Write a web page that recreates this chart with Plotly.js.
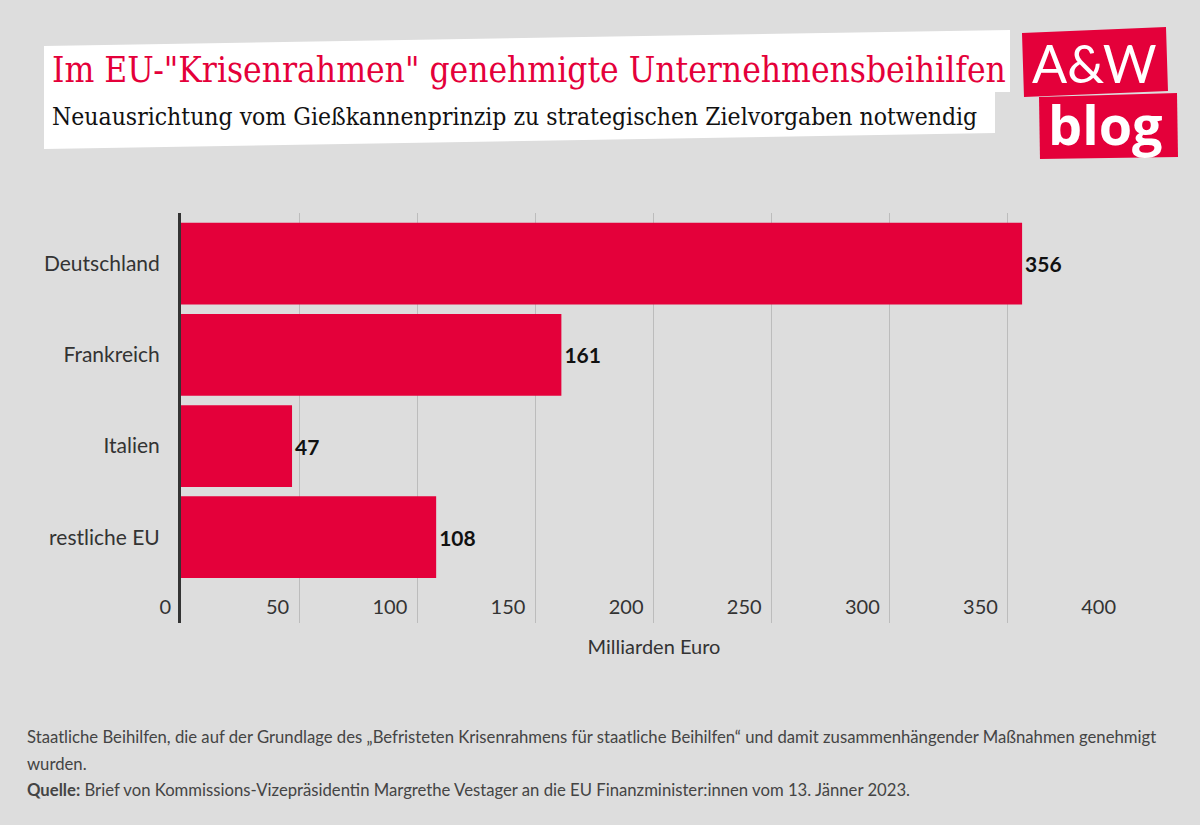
<!DOCTYPE html>
<html>
<head>
<meta charset="utf-8">
<script src="https://cdn.plot.ly/plotly-3.0.1.min.js"></script>
<style>html,body{margin:0;padding:0;background:#dddddd;}</style>
</head>
<body>
<div id="chart" style="width:1200px;height:825px;"></div>
<script>
const categories = ["Deutschland", "Frankreich", "Italien", "restliche EU"];
const values = [356, 161, 47, 108];
const xTickValues = [0, 50, 100, 150, 200, 250, 300, 350, 400];
const xTickLabels = ["0", "50", "100", "150", "200", "250", "300", "350", "400"];

const titleText = 'Im EU-"Krisenrahmen" genehmigte Unternehmensbeihilfen';
const subtitleText = "Neuausrichtung vom Gießkannenprinzip zu strategischen Zielvorgaben notwendig";
const xAxisTitle = "Milliarden Euro";
const noteLine1 = "Staatliche Beihilfen, die auf der Grundlage des „Befristeten Krisenrahmens für staatliche Beihilfen“ und damit zusammenhängender Maßnahmen genehmigt";
const noteLine2 = "wurden.";
const sourceLine = "<b>Quelle:</b> Brief von Kommissions-Vizepräsidentin Margrethe Vestager an die EU Finanzminister:innen vom 13. Jänner 2023.";

const RED = "#e4003a";
const L = 181, T = 213, W = 946, H = 410;
function px(x) { return (x - L) / W; }
function py(y) { return (T + H - y) / H; }
function poly(pts) {
  return "M " + pts.map(p => px(p[0]).toFixed(5) + "," + py(p[1]).toFixed(5)).join(" L ") + " Z";
}

const trace = {
  type: "bar",
  orientation: "h",
  y: categories,
  x: values,
  marker: { color: RED },
  texttemplate: "<b>%{x}</b>",
  textposition: "outside",
  cliponaxis: false,
  textfont: { family: "Lato, 'Noto Sans', sans-serif", size: 21, color: "#111111" },
  hoverinfo: "skip"
};

const layout = {
  width: 1200, height: 825,
  paper_bgcolor: "#dddddd",
  plot_bgcolor: "#dddddd",
  margin: { l: L, t: T, r: 1200 - L - W, b: 825 - T - H, pad: 0 },
  showlegend: false,
  bargap: 0.104,
  font: { family: "Lato, 'Noto Sans', sans-serif", color: "#333333" },
  xaxis: {
    range: [0, 400.4],
    tickvals: xTickValues,
    ticktext: xTickLabels,
    ticklabelposition: "inside left",
    ticklabeloverflow: "allow",
    ticklabelstandoff: -1,
    ticklabelshift: -10,
    ticks: "",
    showgrid: true,
    gridcolor: "#bcbcbc",
    gridwidth: 1,
    zeroline: false,
    showline: false,
    tickfont: { size: 20, color: "#333333" },
    title: { text: xAxisTitle, font: { size: 20, color: "#333333" }, standoff: 22 },
    fixedrange: true
  },
  yaxis: {
    type: "category",
    range: [3.94, -0.554],
    showgrid: false,
    zeroline: false,
    showline: true,
    linecolor: "#333333",
    linewidth: 3,
    ticks: "",
    ticklabelstandoff: 14,
    tickfont: { size: 21, color: "#333333" },
    fixedrange: true
  },
  shapes: [
    { type: "path", xref: "paper", yref: "paper", layer: "above",
      path: poly([[44, 46], [1010, 30], [1010, 92], [995, 92], [995, 133], [44, 149]]),
      fillcolor: "#ffffff", line: { width: 0 } },
    { type: "path", xref: "paper", yref: "paper", layer: "above",
      path: poly([[1022, 33], [1166, 27], [1168, 91], [1024, 97]]),
      fillcolor: RED, line: { width: 0 } },
    { type: "path", xref: "paper", yref: "paper", layer: "above",
      path: poly([[1039, 97], [1177, 93], [1178, 157], [1040, 159]]),
      fillcolor: RED, line: { width: 0 } }
  ],
  annotations: [
    { xref: "paper", yref: "paper", x: px(50), y: py(70), xanchor: "left", yanchor: "middle",
      text: titleText, showarrow: false,
      font: { family: "'DejaVu Serif Condensed', 'Liberation Serif', serif", size: 35, color: RED } },
    { xref: "paper", yref: "paper", x: px(50), y: py(116), xanchor: "left", yanchor: "middle",
      text: subtitleText, showarrow: false,
      font: { family: "'DejaVu Serif Condensed', 'Liberation Serif', serif", size: 24.5, color: "#111111" } },
    { xref: "paper", yref: "paper", x: px(1094), y: py(63), xanchor: "center", yanchor: "middle",
      text: "A&amp;W", showarrow: false,
      font: { family: "Lato, 'Noto Sans', sans-serif", size: 52, weight: 400, color: "#ffffff" } },
    { xref: "paper", yref: "paper", x: px(1105), y: py(124), xanchor: "center", yanchor: "middle",
      text: "<b>blog</b>", showarrow: false,
      font: { family: "'Open Sans', 'Noto Sans', sans-serif", size: 54, color: "#ffffff" } },
    { xref: "paper", yref: "paper", x: px(25), y: py(737), xanchor: "left", yanchor: "middle",
      text: noteLine1, showarrow: false,
      font: { family: "Lato, 'Noto Sans', sans-serif", size: 16.7, color: "#444444" } },
    { xref: "paper", yref: "paper", x: px(25), y: py(764), xanchor: "left", yanchor: "middle",
      text: noteLine2, showarrow: false,
      font: { family: "Lato, 'Noto Sans', sans-serif", size: 16.7, color: "#444444" } },
    { xref: "paper", yref: "paper", x: px(25), y: py(790), xanchor: "left", yanchor: "middle",
      text: sourceLine, showarrow: false,
      font: { family: "Lato, 'Noto Sans', sans-serif", size: 16.7, color: "#444444" } }
  ]
};

Plotly.newPlot("chart", [trace], layout, { staticPlot: true, displayModeBar: false });
</script>
</body>
</html>
